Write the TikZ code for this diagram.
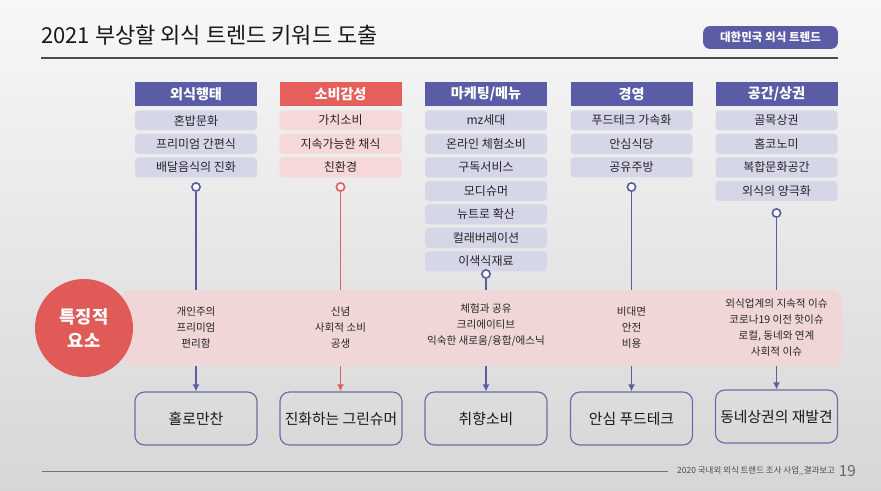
\documentclass[tikz,border=0pt]{standalone}
\usepackage{fontspec}
\setmainfont{Noto Sans CJK KR}
\usepackage{xcolor}
\usetikzlibrary{positioning, arrows.meta, shapes.geometric, calc}

\definecolor{trendblue}{HTML}{5A5CA6}
\definecolor{trendred}{HTML}{E5605C}
\definecolor{itemblue}{HTML}{D6D6E9}
\definecolor{itemred}{HTML}{F6D8D8}
\definecolor{bandpink}{HTML}{F1D6D8}
\definecolor{keyred}{HTML}{E05A58}
\definecolor{linkblue}{HTML}{5C5CA0}
\definecolor{linkred}{HTML}{E0605E}
\definecolor{boxline}{HTML}{6C6CA8}

\begin{document}
\begin{tikzpicture}[
  x=0.85pt, y=-0.85pt,
  head/.style={minimum width=103.7pt, minimum height=20.4pt, inner sep=0pt,
    font=\fontsize{12}{13}\selectfont\bfseries, text=white, fill=trendblue},
  item/.style={rounded corners=3pt, minimum width=103.7pt, minimum height=17pt,
    inner sep=0pt, font=\fontsize{10.2}{11}\selectfont, text=black!85,
    fill=itemblue},
  dot/.style={draw, circle, fill=white, line width=1.4pt, minimum size=7pt,
    inner sep=0pt},
  link/.style={line width=1.6pt},
  flow/.style={-{Latex[length=6pt, width=6pt]}, line width=1.6pt},
  feat/.style={align=center, font=\fontsize{9}{13.6}\selectfont, text=black!85},
  outbox/.style={draw=boxline, line width=1pt, rounded corners=8pt,
    minimum width=103.7pt, minimum height=45pt, inner sep=0pt,
    font=\fontsize{12.6}{13}\selectfont, text=black!90},
  node distance=2.55pt,
]

% ── Page ─────────────────────────────────────────────────
\useasboundingbox (0,0) rectangle (881,491);
\fill[top color=white!97!black, bottom color=white!84!black]
  (0,0) rectangle (881,491);

% ── Title ────────────────────────────────────────────────
\node[anchor=west, inner sep=0pt, font=\fontsize{18.7}{20}\selectfont,
  text=black!90] (title) at (41,35) {2021 부상할 외식 트렌드 키워드 도출};
\node[fill=trendblue, rounded corners=6pt, minimum width=114.7pt,
  minimum height=19.5pt, inner sep=0pt, text=white,
  font=\fontsize{9.8}{11}\selectfont\bfseries] (badge) at (770.5,37.5)
  {대한민국 외식 트렌드};
\coordinate (rulel) at (41,58);
\coordinate (ruler) at (838,58);
\draw[black!70, line width=1.7pt] (rulel) -- (ruler);

% ── Column heads and keywords ────────────────────────────
\node[head] (hd1) at (196,94) {외식행태};
\node[item, below=3.4pt of hd1] (k1a) {혼밥문화};
\node[item, below=of k1a] (k1b) {프리미엄 간편식};
\node[item, below=of k1b] (k1c) {배달음식의 진화};

\node[head, fill=trendred] (hd2) at (340.5,94) {소비감성};
\node[item, fill=itemred, below=3.4pt of hd2] (k2a) {가치소비};
\node[item, fill=itemred, below=of k2a] (k2b) {지속가능한 채식};
\node[item, fill=itemred, below=of k2b] (k2c) {친환경};

\node[head] (hd3) at (486,94) {마케팅/메뉴};
\node[item, below=3.4pt of hd3] (k3a) {mz세대};
\node[item, below=of k3a] (k3b) {온라인 체험소비};
\node[item, below=of k3b] (k3c) {구독서비스};
\node[item, below=of k3c] (k3d) {모디슈머};
\node[item, below=of k3d] (k3e) {뉴트로 확산};
\node[item, below=of k3e] (k3f) {컬래버레이션};
\node[item, below=of k3f] (k3g) {이색식재료};

\node[head] (hd4) at (631.5,94) {경영};
\node[item, below=3.4pt of hd4] (k4a) {푸드테크 가속화};
\node[item, below=of k4a] (k4b) {안심식당};
\node[item, below=of k4b] (k4c) {공유주방};

\node[head] (hd5) at (776.5,94) {공간/상권};
\node[item, below=3.4pt of hd5] (k5a) {골목상권};
\node[item, below=of k5a] (k5b) {홈코노미};
\node[item, below=of k5b] (k5c) {복합문화공간};
\node[item, below=of k5c] (k5d) {외식의 양극화};

% ── Band of features ─────────────────────────────────────
\node[fill=bandpink, rounded corners=9pt, minimum width=613.7pt,
  minimum height=64.6pt, inner sep=0pt] (band) at (481,328) {};
\node[circle, fill=keyred, minimum size=83.3pt, inner sep=0pt, align=center,
  text=white, font=\fontsize{15}{20.5}\selectfont\bfseries]
  (key) at (84,328) {특징적\\요소};

\node[feat] (feat1) at (196,328) {개인주의\\프리미엄\\편리함};
\node[feat] (feat2) at (340.5,328) {신념\\사회적 소비\\공생};
\node[feat] (feat3) at (486,325.5) {체험과 공유\\크리에이티브\\익숙한 새로움/융합/에스닉};
\node[feat] (feat4) at (631.5,328) {비대면\\안전\\비용};
\node[feat] (feat5) at (776.5,328)
  {외식업계의 지속적 이슈\\코로나19 이전 핫이슈\\로컬, 동네와 연계\\사회적 이슈};

% ── Trend outcomes ───────────────────────────────────────
\node[outbox] (out1) at (196,418.5) {홀로만찬};
\node[outbox] (out2) at (341,418.5) {진화하는 그린슈머};
\node[outbox] (out3) at (486,418.5) {취향소비};
\node[outbox] (out4) at (631.5,418.5) {안심 푸드테크};
\node[outbox] (out5) at (776.5,416.5) {동네상권의 재발견};

% ── Connectors ───────────────────────────────────────────
\node[dot, draw=linkblue] (d1) at (196,187) {};
\node[dot, draw=linkred] (d2) at (340.5,187) {};
\node[dot, draw=linkblue] (d3) at (486,274) {};
\node[dot, draw=linkblue] (d4) at (631.5,187) {};
\node[dot, draw=linkblue] (d5) at (776.5,213) {};

\draw[link, linkblue] (d1.south) -- (d1.south |- band.north);
\draw[link, linkred] (d2.south) -- (d2.south |- band.north);
\draw[link, linkblue] (d3.south) -- (d3.south |- band.north);
\draw[link, linkblue] (d4.south) -- (d4.south |- band.north);
\draw[link, linkblue] (d5.south) -- (d5.south |- band.north);

\draw[flow, linkblue] (out1 |- band.south) -- (out1);
\draw[flow, linkred] (d2 |- band.south) -- (d2 |- out2.north);
\draw[flow, linkblue] (out3 |- band.south) -- (out3);
\draw[flow, linkblue] (out4 |- band.south) -- (out4);
\draw[flow, linkblue] (out5 |- band.south) -- (out5);

% ── Footer ───────────────────────────────────────────────
\coordinate (footl) at (42,471);
\coordinate (footr) at (668,471);
\draw[black!55, line width=0.7pt] (footl) -- (footr);
\node[anchor=west, inner sep=0pt, text=black!70,
  font=\fontsize{7.2}{8}\selectfont] (foot) at (677,471)
  {2020 국내외 외식 트렌드 조사 사업\_결과보고};
\node[anchor=west, inner sep=0pt, text=black!60,
  font=\fontsize{13}{14}\selectfont, right=3pt of foot] (page) {19};

\end{tikzpicture}
\end{document}
